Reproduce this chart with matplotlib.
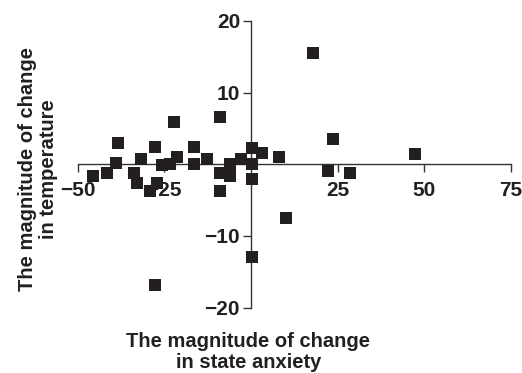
import matplotlib
matplotlib.use("Agg")
import matplotlib.pyplot as plt
from matplotlib.transforms import blended_transform_factory

plt.rcParams["font.family"] = ["Liberation Sans", "DejaVu Sans"]
plt.rcParams["font.weight"] = "bold"

# change in state anxiety vs change in temperature
anxiety_change = [
    -45.6, -41.6, -38.4, -39.0, -33.8, -31.8, -32.8, -29.2, -27.0, -27.8,
    -25.6, -23.4, -22.2, -21.3, -16.3, -16.4, -12.6, -8.8, -8.8, -8.8,
    -5.9, -5.9, -3.0, 0.3, 0.3, 0.3, 3.2, 8.0, 10.2, 17.9,
    23.7, 22.2, 28.5, 47.4, -27.7, 0.3,
]
temperature_change = [
    -1.6, -1.25, 2.9, 0.2, -1.2, 0.7, -2.65, -3.7, -2.6, 2.4,
    -0.1, 0.1, 5.95, 1.06, 2.4, 0.0, 0.7, 6.6, -1.2, -3.7,
    0.1, -1.7, 0.8, 2.2, 0.1, -2.0, 1.6, 1.0, -7.5, 15.5,
    3.5, -1.0, -1.2, 1.4, -16.9, -12.9,
]
x_ticks = [-50, -25, 25, 50, 75]
y_ticks = [-20, -10, 10, 20]

fig = plt.figure(figsize=(5.22, 3.73), dpi=100)
ax = fig.add_axes([0.1485, 0.1756, 0.979 - 0.1485, 0.9437 - 0.1756])

ax.scatter(anxiety_change, temperature_change, marker="s", s=80,
           color="#231f20", linewidths=0, zorder=3)

ax.set_xlim(-50, 75)
ax.set_ylim(-20, 20)

# axes cross at the origin
ax.spines["left"].set_position(("data", 0))
ax.spines["bottom"].set_position(("data", 0))
ax.spines["right"].set_visible(False)
ax.spines["top"].set_visible(False)
for side in ("left", "bottom"):
    ax.spines[side].set_linewidth(1.0)
    ax.spines[side].set_color("#333333")

ax.set_xticks(x_ticks)
ax.set_yticks(y_ticks)
ax.tick_params(axis="both", direction="out", length=5.8, width=1.0,
               color="#333333", labelsize=15)
ax.tick_params(axis="x", pad=6.5)
ax.tick_params(axis="y", pad=2)
for lab in ax.get_xticklabels() + ax.get_yticklabels():
    lab.set_fontweight("bold")
    lab.set_color("#231f20")

# axis titles centred on the crossing lines
tx = blended_transform_factory(ax.transData, fig.transFigure)
ax.text(-0.7, 0.056, "The magnitude of change\nin state anxiety", transform=tx,
        ha="center", va="center", fontsize=14.5, fontweight="bold",
        color="#231f20", linespacing=1.1)
ty = blended_transform_factory(fig.transFigure, ax.transData)
ax.text(0.073, -0.7, "The magnitude of change\nin temperature", transform=ty,
        ha="center", va="center", rotation=90, fontsize=14.5,
        fontweight="bold", color="#231f20", linespacing=1.1)

fig.savefig("out.png", dpi=100)
